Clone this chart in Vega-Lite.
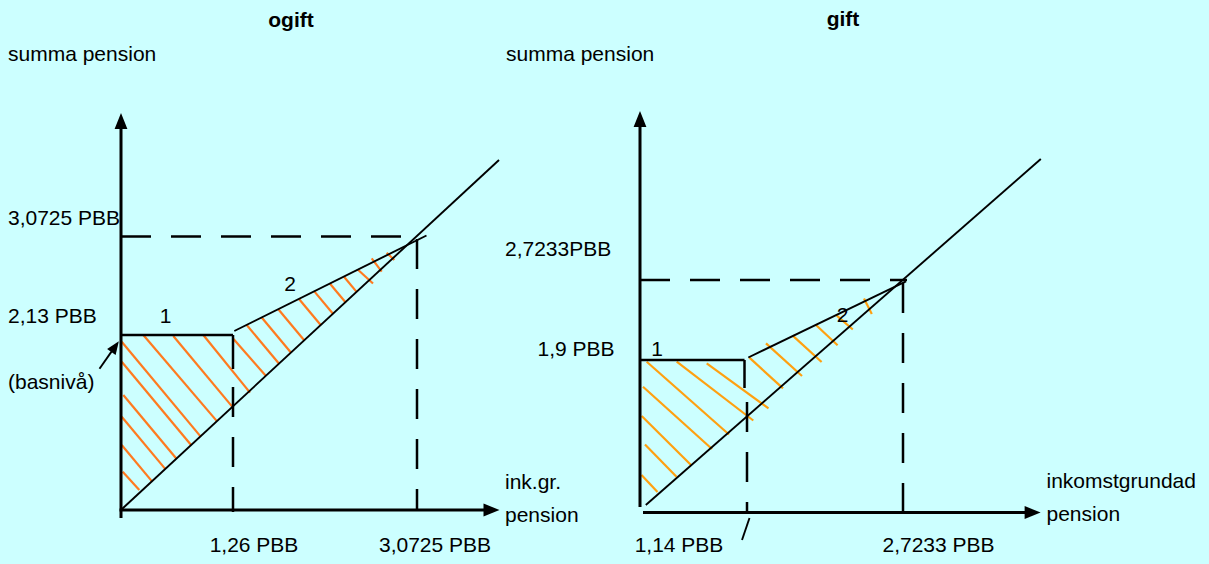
{
  "$schema": "https://vega.github.io/schema/vega-lite/v6.json",
  "width": 1209,
  "height": 564,
  "autosize": {"type": "fit", "contains": "padding"},
  "padding": 0,
  "background": "#CCFFFF",
  "config": {"view": {"stroke": null}},
  "datasets": {
    "axes": [
      {"x": 121, "y": 518, "x2": 121, "y2": 122},
      {"x": 119.5, "y": 510, "x2": 492, "y2": 510},
      {"x": 640, "y": 507, "x2": 640, "y2": 120},
      {"x": 643, "y": 512.5, "x2": 1033, "y2": 512.5}
    ],
    "arrowsUp": [
      {"x": 121, "y": 121},
      {"x": 640, "y": 119}
    ],
    "arrowsRight": [
      {"x": 491.5, "y": 510},
      {"x": 1032.6, "y": 512.5}
    ],
    "box": [
      {"x": 121, "y": 335, "x2": 233, "y2": 335},
      {"x": 233, "y": 335, "x2": 233, "y2": 369},
      {"x": 640, "y": 360, "x2": 744.5, "y2": 360},
      {"x": 744.5, "y": 360, "x2": 744.5, "y2": 388}
    ],
    "thin": [
      {"x": 122, "y": 509, "x2": 499, "y2": 160},
      {"x": 234.3, "y": 331, "x2": 426.5, "y2": 235.5},
      {"x": 645.8, "y": 505, "x2": 1040.8, "y2": 159},
      {"x": 748.3, "y": 357.5, "x2": 906, "y2": 281.3},
      {"x": 749.5, "y": 518, "x2": 742, "y2": 540},
      {"x": 99.5, "y": 368.7, "x2": 115, "y2": 346.6}
    ],
    "basArrow": [
      {"x": 115.1, "y": 346.6}
    ],
    "dashed": [
      {"x": 121, "y": 236.5, "x2": 417, "y2": 236.5},
      {"x": 417, "y": 239, "x2": 417, "y2": 510},
      {"x": 233, "y": 387, "x2": 233, "y2": 512},
      {"x": 640, "y": 280, "x2": 907, "y2": 280},
      {"x": 903, "y": 283, "x2": 903, "y2": 512},
      {"x": 747, "y": 402, "x2": 747, "y2": 512}
    ],
    "hatchLeft": [
      {"x": 143.3, "y": 335, "x2": 217.1, "y2": 421.4},
      {"x": 173.3, "y": 336, "x2": 232.6, "y2": 407.1},
      {"x": 203.3, "y": 335, "x2": 250, "y2": 392.6},
      {"x": 121.7, "y": 341.7, "x2": 200.7, "y2": 436.6},
      {"x": 121.7, "y": 361.7, "x2": 191.3, "y2": 445.2},
      {"x": 123.3, "y": 395, "x2": 176.5, "y2": 458.8},
      {"x": 121.7, "y": 416.7, "x2": 165.4, "y2": 469.1},
      {"x": 121.7, "y": 445, "x2": 152, "y2": 481.4},
      {"x": 122.7, "y": 471.7, "x2": 139.3, "y2": 490},
      {"x": 233.5, "y": 339, "x2": 266, "y2": 376},
      {"x": 246.7, "y": 325, "x2": 279.3, "y2": 364},
      {"x": 261.7, "y": 317.5, "x2": 291.3, "y2": 353},
      {"x": 278.3, "y": 309.2, "x2": 304.6, "y2": 340.7},
      {"x": 299, "y": 299, "x2": 321.1, "y2": 325.5},
      {"x": 314.3, "y": 291.4, "x2": 333.4, "y2": 314.2},
      {"x": 330, "y": 283.7, "x2": 345.9, "y2": 302.7},
      {"x": 344, "y": 276.8, "x2": 357, "y2": 292.4},
      {"x": 357.7, "y": 269.5, "x2": 373, "y2": 283.5},
      {"x": 371.7, "y": 258.3, "x2": 381.7, "y2": 271.7},
      {"x": 386.7, "y": 252.7, "x2": 394.3, "y2": 260}
    ],
    "hatchRight": [
      {"x": 646.7, "y": 361.7, "x2": 729, "y2": 434.5},
      {"x": 676.7, "y": 361.7, "x2": 753.3, "y2": 420.5},
      {"x": 706.7, "y": 363.3, "x2": 768.5, "y2": 408.3},
      {"x": 643, "y": 386.7, "x2": 712, "y2": 449},
      {"x": 641.7, "y": 416, "x2": 691.5, "y2": 465.5},
      {"x": 645, "y": 444.5, "x2": 676.5, "y2": 476.7},
      {"x": 641.5, "y": 475, "x2": 657.5, "y2": 492},
      {"x": 749.4, "y": 357.6, "x2": 783, "y2": 388.4},
      {"x": 766, "y": 343.4, "x2": 802, "y2": 376},
      {"x": 792.7, "y": 335.6, "x2": 821.6, "y2": 362},
      {"x": 815.7, "y": 324.7, "x2": 837.6, "y2": 345.2},
      {"x": 836.8, "y": 315.7, "x2": 852.8, "y2": 329.5},
      {"x": 864, "y": 298.5, "x2": 871.8, "y2": 314}
    ],
    "titles": [
      {"x": 291, "y": 27, "label": "ogift"},
      {"x": 843, "y": 26, "label": "gift"}
    ],
    "labelsLeft": [
      {"x": 8, "y": 61, "label": "summa pension"},
      {"x": 506, "y": 61, "label": "summa pension"},
      {"x": 8, "y": 225, "label": "3,0725 PBB"},
      {"x": 8, "y": 323, "label": "2,13 PBB"},
      {"x": 8, "y": 389, "label": "(basnivå)"},
      {"x": 505, "y": 489, "label": "ink.gr."},
      {"x": 505, "y": 521.5, "label": "pension"},
      {"x": 505, "y": 256, "label": "2,7233PBB"},
      {"x": 537.5, "y": 356, "label": "1,9 PBB"},
      {"x": 1046.5, "y": 487.5, "label": "inkomstgrundad"},
      {"x": 1046.5, "y": 520.5, "label": "pension"}
    ],
    "labelsCenter": [
      {"x": 165.5, "y": 323, "label": "1"},
      {"x": 290, "y": 291, "label": "2"},
      {"x": 657, "y": 356, "label": "1"},
      {"x": 842.5, "y": 322, "label": "2"},
      {"x": 254, "y": 552, "label": "1,26 PBB"},
      {"x": 435, "y": 552, "label": "3,0725 PBB"},
      {"x": 679, "y": 552, "label": "1,14 PBB"},
      {"x": 938.5, "y": 552, "label": "2,7233 PBB"}
    ]
  },
  "layer": [
    {
      "data": {"name": "hatchLeft"},
      "mark": {"type": "rule", "color": "#FF7A1F", "strokeWidth": 2.2},
      "encoding": {
        "x": {"field": "x", "type": "quantitative", "scale": {"domain": [0, 1209], "nice": false, "zero": false}, "axis": null},
        "y": {"field": "y", "type": "quantitative", "scale": {"domain": [0, 564], "reverse": true, "nice": false, "zero": false}, "axis": null},
        "x2": {"field": "x2"},
        "y2": {"field": "y2"}
      }
    },
    {
      "data": {"name": "hatchRight"},
      "mark": {"type": "rule", "color": "#FFA010", "strokeWidth": 2.2},
      "encoding": {
        "x": {"field": "x", "type": "quantitative"},
        "y": {"field": "y", "type": "quantitative"},
        "x2": {"field": "x2"},
        "y2": {"field": "y2"}
      }
    },
    {
      "data": {"name": "dashed"},
      "mark": {"type": "rule", "color": "#000000", "strokeWidth": 2.5, "strokeDash": [30, 20]},
      "encoding": {
        "x": {"field": "x", "type": "quantitative"},
        "y": {"field": "y", "type": "quantitative"},
        "x2": {"field": "x2"},
        "y2": {"field": "y2"}
      }
    },
    {
      "data": {"name": "thin"},
      "mark": {"type": "rule", "color": "#000000", "strokeWidth": 1.9},
      "encoding": {
        "x": {"field": "x", "type": "quantitative"},
        "y": {"field": "y", "type": "quantitative"},
        "x2": {"field": "x2"},
        "y2": {"field": "y2"}
      }
    },
    {
      "data": {"name": "box"},
      "mark": {"type": "rule", "color": "#000000", "strokeWidth": 2.5},
      "encoding": {
        "x": {"field": "x", "type": "quantitative"},
        "y": {"field": "y", "type": "quantitative"},
        "x2": {"field": "x2"},
        "y2": {"field": "y2"}
      }
    },
    {
      "data": {"name": "axes"},
      "mark": {"type": "rule", "color": "#000000", "strokeWidth": 3},
      "encoding": {
        "x": {"field": "x", "type": "quantitative"},
        "y": {"field": "y", "type": "quantitative"},
        "x2": {"field": "x2"},
        "y2": {"field": "y2"}
      }
    },
    {
      "data": {"name": "arrowsUp"},
      "mark": {"type": "point", "shape": "M0,-1L-0.8,1L0.8,1Z", "size": 256, "filled": true, "color": "#000000", "opacity": 1},
      "encoding": {
        "x": {"field": "x", "type": "quantitative"},
        "y": {"field": "y", "type": "quantitative"}
      }
    },
    {
      "data": {"name": "arrowsRight"},
      "mark": {"type": "point", "shape": "M1,0L-1,-0.8L-1,0.8Z", "size": 256, "filled": true, "color": "#000000", "opacity": 1},
      "encoding": {
        "x": {"field": "x", "type": "quantitative"},
        "y": {"field": "y", "type": "quantitative"}
      }
    },
    {
      "data": {"name": "basArrow"},
      "mark": {"type": "point", "shape": "M0,-1L-0.8,1L0.8,1Z", "size": 169, "angle": 35, "filled": true, "color": "#000000", "opacity": 1},
      "encoding": {
        "x": {"field": "x", "type": "quantitative"},
        "y": {"field": "y", "type": "quantitative"}
      }
    },
    {
      "data": {"name": "titles"},
      "mark": {"type": "text", "font": "Liberation Sans", "fontSize": 21, "fontWeight": "bold", "align": "center", "baseline": "alphabetic", "color": "#000000"},
      "encoding": {
        "x": {"field": "x", "type": "quantitative"},
        "y": {"field": "y", "type": "quantitative"},
        "text": {"field": "label"}
      }
    },
    {
      "data": {"name": "labelsLeft"},
      "mark": {"type": "text", "font": "Liberation Sans", "fontSize": 21, "align": "left", "baseline": "alphabetic", "color": "#000000"},
      "encoding": {
        "x": {"field": "x", "type": "quantitative"},
        "y": {"field": "y", "type": "quantitative"},
        "text": {"field": "label"}
      }
    },
    {
      "data": {"name": "labelsCenter"},
      "mark": {"type": "text", "font": "Liberation Sans", "fontSize": 21, "align": "center", "baseline": "alphabetic", "color": "#000000"},
      "encoding": {
        "x": {"field": "x", "type": "quantitative"},
        "y": {"field": "y", "type": "quantitative"},
        "text": {"field": "label"}
      }
    }
  ]
}
